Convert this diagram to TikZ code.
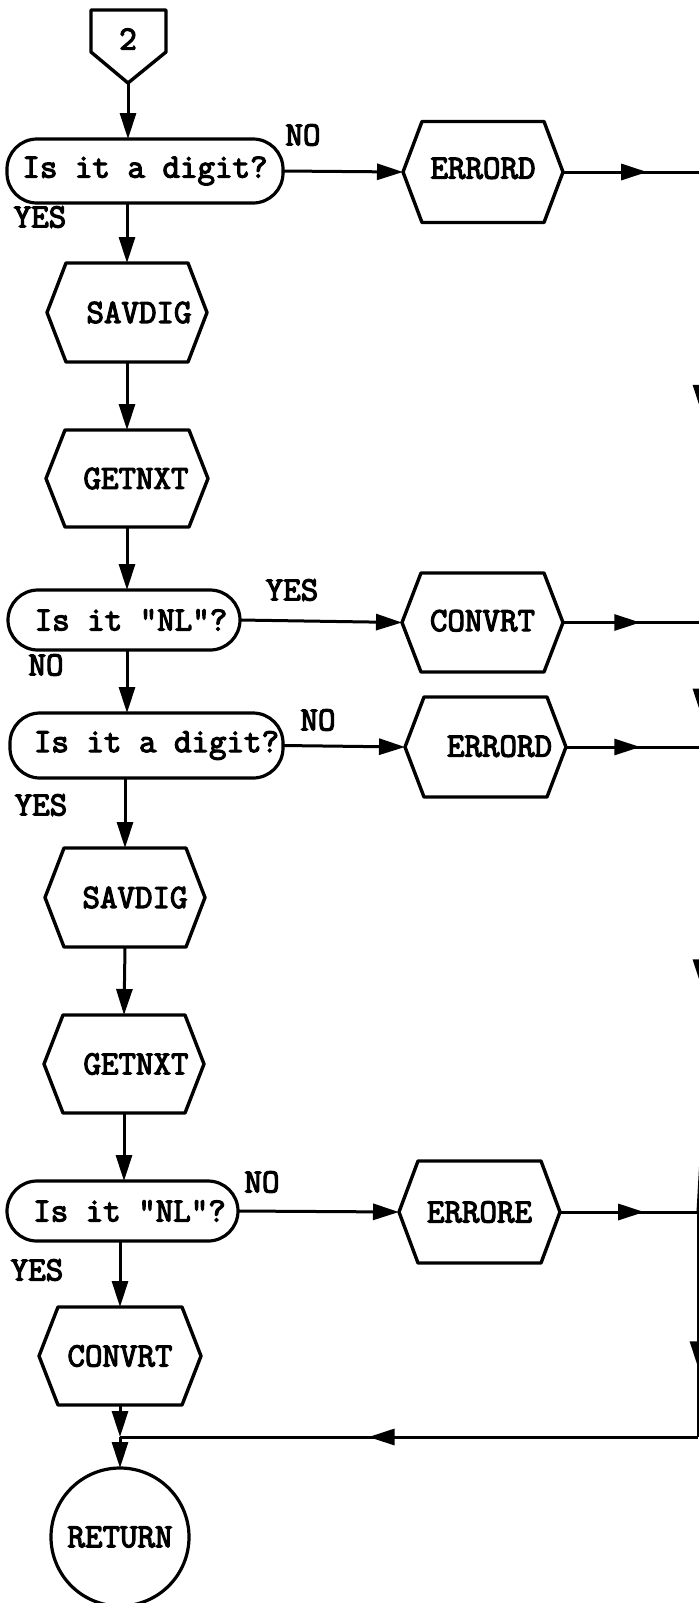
\documentclass[tikz,border=0pt]{standalone}
\usepackage{fontspec}
\newfontfamily\twfont{Latin Modern Mono}[FakeBold=3.5]
\usetikzlibrary{arrows.meta,decorations.markings,calc}
\tikzset{
  x=0.5pt, y=-0.5pt,
  lbl/.style={font=\twfont\fontsize{17pt}{19pt}\selectfont, inner sep=0pt},
  hexbox/.style={lbl, rectangle, outer sep=0pt, inner sep=0pt},
  hexline/.style={line width=1.7pt, line join=round},
  pill/.style={lbl, draw, rectangle, rounded corners=15pt, line width=1.6pt, outer sep=0pt},
  termcircle/.style={lbl, draw, circle, line width=1.6pt, minimum size=69pt, outer sep=0pt},
  flow/.style={line width=1.5pt, -{Triangle[length=13pt,width=8pt]}},
  midarrow/.style={line width=1.5pt, postaction={decorate},
    decoration={markings, mark=at position #1 with {\arrow{Triangle[length=13pt,width=8pt]}}}},
}
\begin{document}
\begin{tikzpicture}
\useasboundingbox (0,0) rectangle (699,1603);
\clip (0,0) rectangle (699,1603);
% off-page connector
\node[lbl] (c2) at (128,39) {2};
\coordinate (c2tip) at (128,83);
\draw[hexline] (91,10) -- (166,10) -- (166,52) -- (c2tip) -- (91,52) -- cycle;
% decisions
\node[pill, minimum width=138pt, minimum height=32pt] (d1) at (145,171) {\makebox[0pt]{Is it a digit?}};
\node[pill, minimum width=116pt, minimum height=30pt] (d2) at (124,620) {\makebox[0pt]{\hspace*{7pt}Is it "NL"?}};
\node[pill, minimum width=136.5pt, minimum height=32.5pt] (d3) at (146.5,745.5) {\makebox[0pt]{\hspace*{10pt}Is it a digit?}};
\node[pill, minimum width=115.5pt, minimum height=30pt] (d4) at (122.5,1211) {\makebox[0pt]{\hspace*{7pt}Is it "NL"?}};
% hexagon boxes
\node[hexbox, minimum width=80pt, minimum height=50.5pt] (err1) at (483,172) {\raisebox{4pt}{ERRORD}};
\node[hexbox, minimum width=80.5pt, minimum height=49.5pt] (conv1) at (482.5,622.5) {\raisebox{2pt}{CONVRT}};
\node[hexbox, minimum width=80.5pt, minimum height=50pt] (err2) at (485.5,747) {\hspace*{14pt}\raisebox{1pt}{ERRORD}};
\node[hexbox, minimum width=80.5pt, minimum height=51pt] (erre) at (479.5,1212) {ERRORE};
\node[hexbox, minimum width=80pt, minimum height=49.5pt] (sav1) at (127,312.5) {\hspace*{12pt}SAVDIG};
\node[hexbox, minimum width=81pt, minimum height=48.5pt] (get1) at (127,478.5) {\hspace*{9pt}GETNXT};
\node[hexbox, minimum width=80pt, minimum height=49.5pt] (sav2) at (125,897.5) {\hspace*{10pt}SAVDIG};
\node[hexbox, minimum width=80pt, minimum height=49pt] (get2) at (124,1064) {\hspace*{12pt}GETNXT};
\node[hexbox, minimum width=81pt, minimum height=49pt] (conv2) at (120,1356) {CONVRT};
\foreach \n in {err1,conv1,err2,erre,sav1,get1,sav2,get2,conv2}
  \draw[hexline] (\n.west) -- ([xshift=9.5pt]\n.north west) -- ([xshift=-9.5pt]\n.north east)
    -- (\n.east) -- ([xshift=-9.5pt]\n.south east) -- ([xshift=9.5pt]\n.south west) -- cycle;
% terminal
\node[termcircle] (ret) at (120,1537) {RETURN};
% branch labels
\node[lbl] (no1) at (303,135) {NO};
\node[lbl] (yes1) at (40,217) {YES};
\node[lbl] (yes2) at (292,590) {YES};
\node[lbl] (no2) at (46,665) {NO};
\node[lbl] (no3) at (318,720) {NO};
\node[lbl] (yes3) at (41,805) {YES};
\node[lbl] (no4) at (262,1182) {NO};
\node[lbl] (yes4) at (37,1270) {YES};
% trunk coordinates
\coordinate (t1) at (701,172);
\coordinate (t2) at (701,622.5);
\coordinate (t3) at (701,747);
\coordinate (t3a) at (701,1158);
\coordinate (t4) at (698,1212);
\coordinate (tb) at (698,1437);
\coordinate (j) at (120,1437);
% main flow
\draw[flow] (c2tip) -- (c2tip |- d1.north);
\draw[flow] (sav1.north |- d1.south) -- (sav1.north);
\draw[flow] (sav1.south) -- (get1.north);
\draw[flow] (get1.south) -- (get1.south |- d2.north);
\draw[flow] (get1.south |- d2.south) -- (get1.south |- d3.north);
\draw[flow] (sav2.north |- d3.south) -- (sav2.north);
\draw[flow] (sav2.south) -- (get2.north);
\draw[flow] (get2.south) -- (get2.south |- d4.north);
\draw[flow] (conv2.north |- d4.south) -- (conv2.north);
\draw[flow] (conv2.south) -- (j);
\draw[flow] (j) -- (ret.north);
% side branches
\draw[flow] (d1.east) -- (err1.west);
\draw[flow] (d2.east) -- (conv1.west);
\draw[flow] (d3.east) -- (err2.west);
\draw[flow] (d4.east) -- (erre.west);
\draw[midarrow=0.61] (err1.east) -- (t1);
\draw[midarrow=0.56] (conv1.east) -- (t2);
\draw[midarrow=0.55] (err2.east) -- (t3);
\draw[midarrow=0.61] (erre.east) -- (t4);
\draw[midarrow=0.53] (t1) -- (t2);
\draw[midarrow=0.74] (t2) -- (t3);
\draw[midarrow=0.58] (t3) -- (t3a);
\draw[line width=1.5pt] (t3a) -- (t4);
\draw[midarrow=0.69] (t4) -- (tb);
\draw[midarrow=0.57] (tb) -- (j);
\end{tikzpicture}
\end{document}
